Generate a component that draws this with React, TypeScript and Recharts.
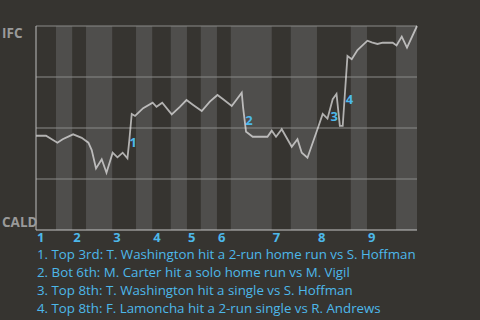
import {
	ComposedChart,
	Line,
	ReferenceArea,
	ReferenceDot,
	ReferenceLine,
	XAxis,
	YAxis,
} from "recharts";

// game progress runs 0..80, win probability for IFC 0..1
const progress = [
	0, 2.1, 4.5, 5.6, 7.8, 9.6, 11.0, 11.7, 12.6, 13.8, 14.8, 16.1, 17.1, 18.2, 19.2, 19.6, 20.1, 20.8, 22.5,
	24.5, 25.3, 26.5, 28.5, 30.2, 31.6, 33.0, 34.8, 36.5, 38.1, 39.3, 41.1, 43.2, 43.5, 44.1, 44.4, 45.5, 48.6,
	49.5, 50.4, 51.6, 53.7, 54.9, 55.8, 57.0, 59.1, 60.2, 61.2, 62.3, 63.1, 63.8, 64.4, 65.4, 66.3, 67.5, 69.6,
	70.5, 71.7, 72.8, 74.9, 75.7, 76.8, 77.9, 80,
];
const winProb = [
	0.462, 0.462, 0.428, 0.445, 0.469, 0.452, 0.428, 0.392, 0.302, 0.347, 0.281, 0.379, 0.356, 0.379, 0.351,
	0.441, 0.569, 0.559, 0.597, 0.624, 0.604, 0.624, 0.567, 0.604, 0.637, 0.613, 0.583, 0.629, 0.662, 0.641,
	0.608, 0.673, 0.597, 0.482, 0.477, 0.457, 0.457, 0.487, 0.457, 0.494, 0.408, 0.445, 0.379, 0.354, 0.494,
	0.569, 0.546, 0.641, 0.667, 0.51, 0.51, 0.853, 0.837, 0.882, 0.928, 0.92, 0.912, 0.918, 0.918, 0.905,
	0.948, 0.894, 1.0,
];

const topStarts = [0, 7.6, 16.0, 24.4, 31.7, 38.0, 49.5, 59.0, 69.5];
const botStarts = [4.2, 10.5, 21.0, 28.3, 34.6, 40.9, 53.5, 66.1, 75.6];
const botEnds = [7.6, 16.0, 24.4, 31.7, 38.0, 49.5, 59.0, 69.5, 80];
const innings = ["1", "2", "3", "4", "5", "6", "7", "8", "9"];

const gridValues = [0.25, 0.5, 0.75, 1];

const noteIds = ["1", "2", "3", "4"];
const noteX = [20.4, 44.7, 62.6, 65.8];
const noteY = [0.428, 0.539, 0.559, 0.642];
const notes = [
	"1. Top 3rd: T. Washington hit a 2-run home run vs S. Hoffman",
	"2. Bot 6th: M. Carter hit a solo home run vs M. Vigil",
	"3. Top 8th: T. Washington hit a single vs S. Hoffman",
	"4. Top 8th: F. Lamoncha hit a 2-run single vs R. Andrews",
];

const BG = "#363430";
const BAND = "#4f4e4c";
const BLUE = "#4db8ea";
const FONT = "'Open Sans', sans-serif";

const data = progress.map((x, i) => ({ x, p: winProb[i] }));

function InningTick(props: any) {
	const { x, index } = props;
	return (
		<text x={x + 1} y={242} textAnchor="start" fill={BLUE} fontSize={13} fontWeight={700} fontFamily={FONT}>
			{innings[index]}
		</text>
	);
}

function TeamTick(props: any) {
	const { y, payload } = props;
	const top = payload.value === 1;
	return (
		<text x={2} y={top ? y + 12 : y - 3} textAnchor="start" fill="#9a9a9a" fontSize={13.5} fontWeight={700} fontFamily={FONT}>
			{top ? "IFC" : "CALD"}
		</text>
	);
}

export default function App() {
	return (
		<div style={{ position: "fixed", left: 0, top: 0, width: 480, height: 320, background: BG, fontFamily: FONT }}>
			<ComposedChart width={480} height={320} data={data} margin={{ top: 26, right: 63, left: 0, bottom: 70 }}>
				{botStarts.map((s, i) => (
					<ReferenceArea key={s} x1={s} x2={botEnds[i]} y1={0} y2={1} fill={BAND} fillOpacity={1} stroke="none" />
				))}
				{gridValues.map((v) => (
					<ReferenceLine key={v} y={v} stroke="#8a8a88" strokeWidth={1} />
				))}
				<XAxis
					dataKey="x"
					type="number"
					domain={[0, 80]}
					ticks={topStarts}
					interval={0}
					height={20}
					axisLine={{ stroke: "#c4c4c4" }}
					tickLine={false}
					tick={<InningTick />}
				/>
				<YAxis
					type="number"
					domain={[0, 1]}
					ticks={[0, 1]}
					width={36}
					axisLine={{ stroke: "#bcbcbc" }}
					tickLine={false}
					tick={<TeamTick />}
				/>
				<Line
					dataKey="p"
					type="linear"
					stroke="#ffffff"
					strokeOpacity={0.62}
					strokeWidth={1.8}
					dot={false}
					isAnimationActive={false}
				/>
				{noteIds.map((id, i) => (
					<ReferenceDot
						key={id}
						x={noteX[i]}
						y={noteY[i]}
						r={0}
						stroke="none"
						fill="none"
						label={{ value: id, position: "center", fill: BLUE, fontSize: 13, fontWeight: 700, fontFamily: FONT }}
					/>
				))}
			</ComposedChart>
			<div style={{ position: "absolute", left: 37, top: 247, color: BLUE, fontSize: 13.3, lineHeight: "15px" }}>
				{notes.map((n) => (
					<div key={n} style={{ marginBottom: 3 }}>
						{n}
					</div>
				))}
			</div>
		</div>
	);
}
